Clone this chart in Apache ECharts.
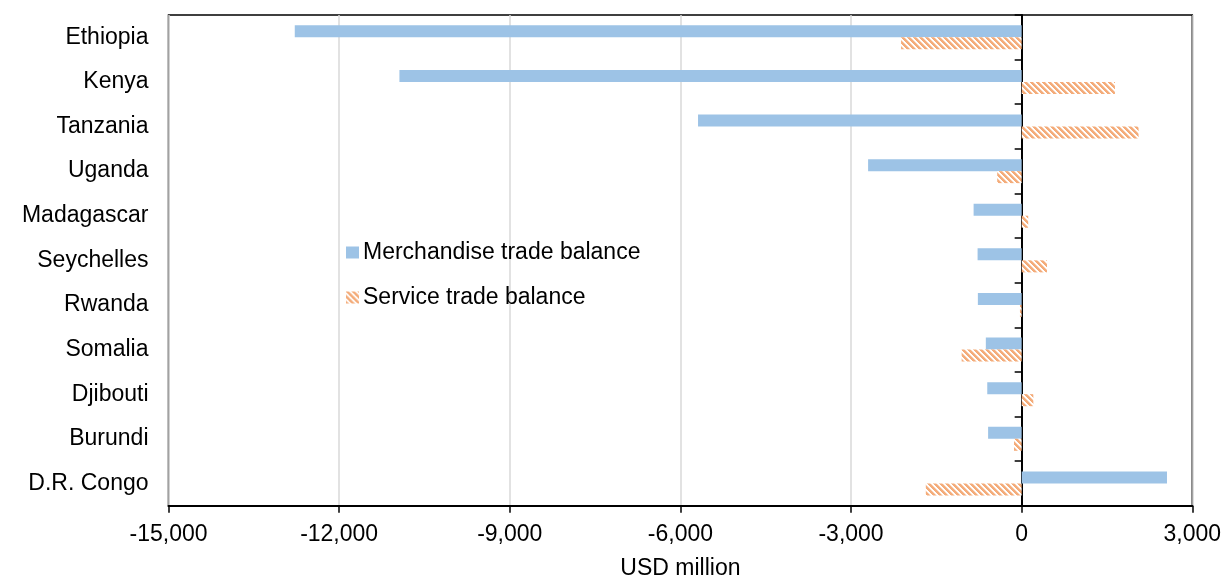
<!DOCTYPE html>
<html>
<head>
<meta charset="utf-8">
<script src="https://cdn.jsdelivr.net/npm/echarts@6/dist/echarts.min.js"></script>
<style>
  html, body { margin: 0; padding: 0; background: #fff; }
  #chart { width: 1223px; height: 579px; }
</style>
</head>
<body>
<div id="chart"></div>
<script>
// Trade balances, USD million
const countries = ['Ethiopia', 'Kenya', 'Tanzania', 'Uganda', 'Madagascar', 'Seychelles',
                   'Rwanda', 'Somalia', 'Djibouti', 'Burundi', 'D.R. Congo'];
const merchandiseBalance = [-12780, -10940, -5690, -2700, -845, -775, -770, -630, -605, -590, 2555];
const serviceBalance = [-2120, 1640, 2055, -430, 115, 445, -30, -1055, 205, -135, -1685];
const seriesNames = ['Merchandise trade balance', 'Service trade balance'];
const axisTitle = 'USD million';

const FONT = '"Liberation Sans", Arial, sans-serif';

// Diagonal hatch fill for the service series
function hatchPattern() {
  const size = 6;
  const c = document.createElement('canvas');
  c.width = size; c.height = size;
  const ctx = c.getContext('2d');
  const img = ctx.createImageData(size, size);
  for (let y = 0; y < size; y++) {
    for (let x = 0; x < size; x++) {
      const k = (((x - y) % size) + size) % size;
      const i = (y * size + x) * 4;
      let r = 255, g = 255, b = 255;
      if (k < 3) { r = 244; g = 172; b = 122; }
      else if (k === 3) { r = 249; g = 214; b = 190; }
      img.data[i] = r; img.data[i + 1] = g; img.data[i + 2] = b;
      img.data[i + 3] = 255;
    }
  }
  ctx.putImageData(img, 0, 0);
  return c;
}

const chart = echarts.init(document.getElementById('chart'), null, { renderer: 'canvas' });

chart.setOption({
  animation: false,
  backgroundColor: '#fff',
  grid: {
    left: 168.5, right: 30.7, top: 15, bottom: 73.3,
    show: true, borderColor: '#000', borderWidth: 1.5,
    containLabel: false, outerBoundsMode: 'none'
  },
  legend: {
    orient: 'vertical',
    left: 341, top: 236,
    itemWidth: 13, itemHeight: 12, itemGap: 22,
    icon: 'rect',
    textStyle: { fontFamily: FONT, fontSize: 23, color: '#000', padding: [0, 0, 0, -1] },
    data: seriesNames
  },
  xAxis: {
    type: 'value',
    min: -15000, max: 3000, interval: 3000,
    name: axisTitle,
    nameLocation: 'middle',
    nameGap: 51,
    nameTextStyle: { fontFamily: FONT, fontSize: 23, color: '#000' },
    axisLine: { show: true, onZero: false, lineStyle: { color: '#000', width: 2 } },
    axisTick: { show: true, length: 7, lineStyle: { color: '#000', width: 1.5 } },
    axisLabel: {
      fontFamily: FONT, fontSize: 23, color: '#000', margin: 17,
      formatter: v => v.toLocaleString('en-US')
    },
    splitLine: { show: true, lineStyle: { color: '#d9d9d9', width: 1.5 } }
  },
  yAxis: [
    {
      type: 'category',
      data: countries,
      inverse: true,
      position: 'left',
      axisLine: { show: false, onZero: false },
      axisTick: { show: false },
      axisLabel: { fontFamily: FONT, fontSize: 23, color: '#000', margin: 20 },
      splitLine: { show: false }
    },
    {
      // zero line with category boundary ticks
      type: 'category',
      data: countries,
      inverse: true,
      position: 'left',
      axisLine: { show: true, onZero: true, lineStyle: { color: '#000', width: 2 } },
      axisTick: { show: true, length: 7, lineStyle: { color: '#000', width: 1.5 } },
      axisLabel: { show: false },
      splitLine: { show: false }
    }
  ],
  series: [
    {
      name: seriesNames[0],
      type: 'bar',
      yAxisIndex: 0,
      data: merchandiseBalance,
      barWidth: 12,
      barGap: '0%',
      itemStyle: { color: '#9dc3e6' }
    },
    {
      name: seriesNames[1],
      type: 'bar',
      yAxisIndex: 0,
      data: serviceBalance,
      barWidth: 12,
      barGap: '0%',
      itemStyle: { color: { image: hatchPattern(), repeat: 'repeat' } }
    }
  ]
});
</script>
</body>
</html>
